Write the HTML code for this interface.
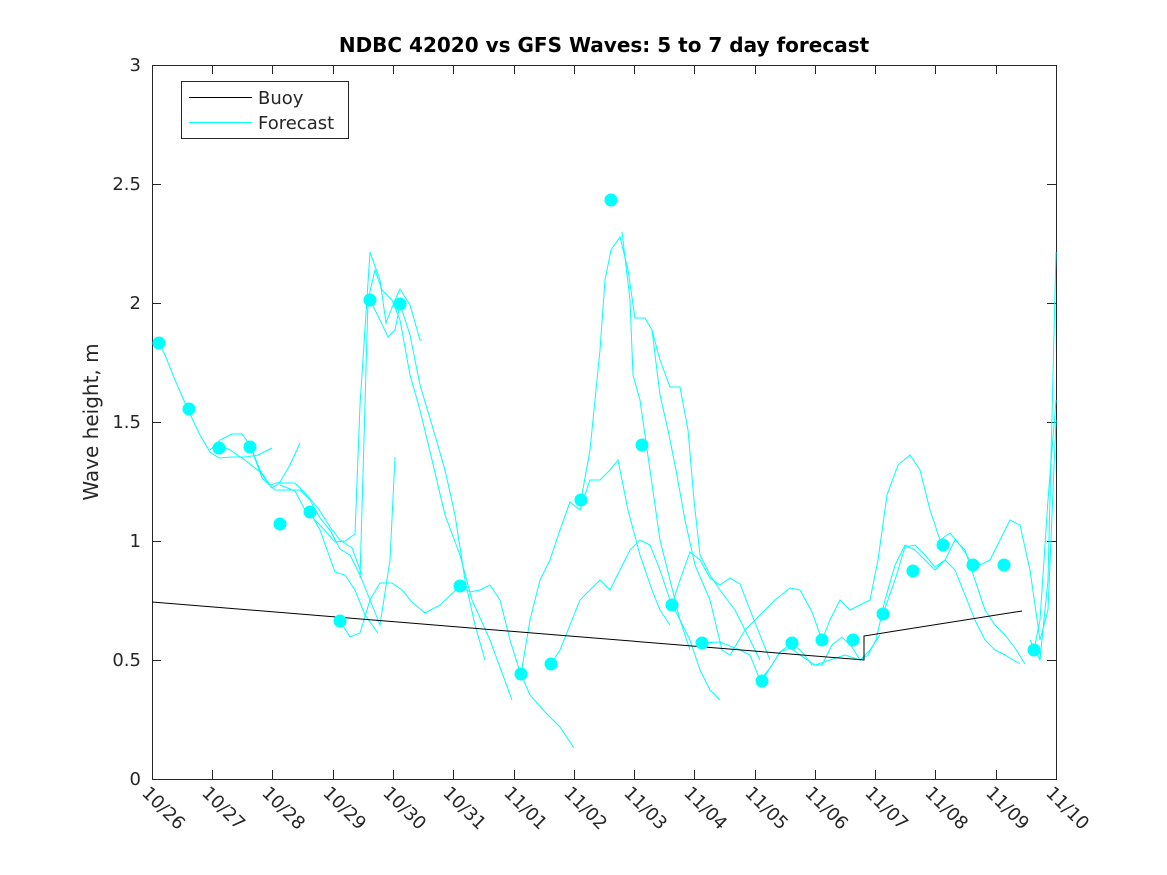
<!DOCTYPE html>
<html><head><style>body{margin:0;background:#fff}svg{display:block}text{font-family:"DejaVu Sans","Liberation Sans",sans-serif;fill:#262626}</style></head>
<body>
<svg width="1167" height="875" viewBox="0 0 1167 875" xmlns="http://www.w3.org/2000/svg">
<rect width="1167" height="875" fill="#fff"/>
<text x="604" y="52" text-anchor="middle" font-size="20" font-weight="bold" style="fill:#000">NDBC 42020 vs GFS Waves: 5 to 7 day forecast</text>
<rect x="152.5" y="65.5" width="904" height="714" fill="none" stroke="#262626" stroke-width="1"/>
<g stroke="#262626" stroke-width="1" id="ticks">
<path d="M152 660.5h9M152 541.5h9M152 422.5h9M152 303.5h9M152 184.5h9M1056 660.5h-9M1056 541.5h-9M1056 422.5h-9M1056 303.5h-9M1056 184.5h-9"/>
<path d="M212.5 779v-9M272.5 779v-9M333.5 779v-9M393.5 779v-9M453.5 779v-9M514.5 779v-9M574.5 779v-9M634.5 779v-9M694.5 779v-9M755.5 779v-9M815.5 779v-9M875.5 779v-9M935.5 779v-9M996.5 779v-9M212.5 65v9M272.5 65v9M333.5 65v9M393.5 65v9M453.5 65v9M514.5 65v9M574.5 65v9M634.5 65v9M694.5 65v9M755.5 65v9M815.5 65v9M875.5 65v9M935.5 65v9M996.5 65v9"/>
</g>
<g font-size="18" text-anchor="end">
<text x="141" y="785">0</text><text x="141" y="666">0.5</text><text x="141" y="547">1</text><text x="141" y="428">1.5</text><text x="141" y="309">2</text><text x="141" y="190">2.5</text><text x="141" y="71">3</text>
</g>
<text transform="translate(98,422) rotate(-90)" text-anchor="middle" font-size="20">Wave height, m</text>
<g font-size="18">
<text transform="translate(141,794) rotate(45)">10/26</text>
<text transform="translate(201,794) rotate(45)">10/27</text>
<text transform="translate(261,794) rotate(45)">10/28</text>
<text transform="translate(322,794) rotate(45)">10/29</text>
<text transform="translate(382,794) rotate(45)">10/30</text>
<text transform="translate(442,794) rotate(45)">10/31</text>
<text transform="translate(503,794) rotate(45)">11/01</text>
<text transform="translate(563,794) rotate(45)">11/02</text>
<text transform="translate(623,794) rotate(45)">11/03</text>
<text transform="translate(683,794) rotate(45)">11/04</text>
<text transform="translate(744,794) rotate(45)">11/05</text>
<text transform="translate(804,794) rotate(45)">11/06</text>
<text transform="translate(864,794) rotate(45)">11/07</text>
<text transform="translate(924,794) rotate(45)">11/08</text>
<text transform="translate(985,794) rotate(45)">11/09</text>
<text transform="translate(1045,794) rotate(45)">11/10</text>
</g>
<g fill="none" stroke="#00ffff" stroke-width="1">
<polyline points="159,343 165,355 175,380 189,412 200,435 210,452 219,458 232,457 245,457 258,455 272,448"/>
<polyline points="210,450 220,440 232,434 242,434 250,445 260,470 270,485 280,482 290,465 300,443"/>
<polyline points="219,445 230,450 245,460 260,472 272,488 280,483 295,483 305,493 318,508 330,527 340,540 352,548 362,575"/>
<polyline points="250,445 262,478 275,490 290,490 300,490 310,500 320,518 330,530 340,549 350,555 360,575 370,600 380,625 390,560 395,457"/>
<polyline points="280,485 295,491 305,510 320,525 335,542 345,541 355,534 360,405 370,252 380,280 386,323 395,300 400,289 410,305 420,340 422,340"/>
<polyline points="310,512 320,530 335,572 345,575 355,590 365,615 378,633"/>
<polyline points="340,621 350,637 360,633 370,600 380,583 392,583 402,590 412,602 425,613 440,605 460,586 470,592 480,590 490,585 500,600 510,640 520,672 530,695 545,712 560,727 574,748"/>
<polyline points="370,300 380,320 388,337 395,330 400,304 410,335 420,385 432,425 445,470 455,515 465,580 475,625 485,660"/>
<polyline points="360,578 368,300 375,270 382,290 392,300 400,320 410,375 420,410 432,460 445,515 460,555 472,600 490,640 512,700"/>
<polyline points="521,674 530,620 540,580 550,560 560,530 570,502 580,510 590,480 600,480 610,470 618,460 628,510 640,555 652,590 660,610 670,625"/>
<polyline points="551,664 560,650 570,625 580,600 590,590 600,580 610,590 620,570 630,550 640,540 650,545 660,570 670,600 680,620 690,650"/>
<polyline points="581,500 590,450 600,350 605,280 611,250 620,237 628,270 635,318 645,318 652,330 660,395 668,430 676,470 685,520 695,565 710,600 722,650 730,655"/>
<polyline points="622,232 630,300 633,375 640,400 650,470 660,540 670,580 680,620 690,640 700,670 710,690 720,700"/>
<polyline points="652,330 660,360 670,387 680,387 688,430 694,500 700,555 710,575 720,590 735,610 750,640 760,660"/>
<polyline points="672,605 680,580 690,552 700,560 710,578 720,585 730,578 740,584 750,610 760,635 770,660"/>
<polyline points="702,643 720,642 740,650 750,655 760,680 770,668 780,652 790,648 800,655 815,665 830,660 845,655 860,660 870,650 880,635"/>
<polyline points="762,681 770,668 780,652 792,643 802,652 812,665 822,665 832,645 842,637 852,647 860,660 868,655 876,640 885,600 895,565 905,545 915,550 925,560 935,570 945,560 955,570 965,595 975,620 985,640 995,650 1005,655 1020,664"/>
<polyline points="730,655 745,630 760,615 775,600 790,588 800,590 812,612 822,640 830,620 840,600 850,610 860,605 870,600 878,560 887,495 898,465 910,455 920,470 930,510 940,540 950,533 960,545 970,560 980,565 990,560 1000,540 1010,520 1020,525 1030,570 1040,640 1048,610 1056,420"/>
<polyline points="883,614 895,580 905,547 915,545 925,555 935,567 945,560 955,540 965,550 975,580 985,610 995,625 1005,635 1015,648 1025,664"/>
<polyline points="1034,650 1040,620 1048,500 1056,400"/>
<polyline points="1030,640 1040,660 1048,580 1056,252"/>
</g>
<polyline points="152,602 864,660 864,636 1022,611" fill="none" stroke="#000" stroke-width="1"/>
<g fill="#00ffff">
<circle cx="159" cy="343" r="6.5"/><circle cx="189" cy="409" r="6.5"/><circle cx="219" cy="448" r="6.5"/><circle cx="250" cy="447" r="6.5"/><circle cx="280" cy="524" r="6.5"/><circle cx="310" cy="512" r="6.5"/><circle cx="340" cy="621" r="6.5"/><circle cx="370" cy="300" r="6.5"/><circle cx="400" cy="304" r="6.5"/><circle cx="460" cy="586" r="6.5"/><circle cx="521" cy="674" r="6.5"/><circle cx="551" cy="664" r="6.5"/><circle cx="581" cy="500" r="6.5"/><circle cx="611" cy="200" r="6.5"/><circle cx="642" cy="445" r="6.5"/><circle cx="672" cy="605" r="6.5"/><circle cx="702" cy="643" r="6.5"/><circle cx="762" cy="681" r="6.5"/><circle cx="792" cy="643" r="6.5"/><circle cx="822" cy="640" r="6.5"/><circle cx="853" cy="640" r="6.5"/><circle cx="883" cy="614" r="6.5"/><circle cx="913" cy="571" r="6.5"/><circle cx="943" cy="545" r="6.5"/><circle cx="973" cy="565" r="6.5"/><circle cx="1004" cy="565" r="6.5"/><circle cx="1034" cy="650" r="6.5"/>
</g>
<rect x="181.5" y="81.5" width="167" height="57" fill="#fff" stroke="#262626"/>
<line x1="189" y1="97.5" x2="252" y2="97.5" stroke="#000"/>
<line x1="189" y1="122.5" x2="252" y2="122.5" stroke="#00ffff"/>
<text x="258" y="104" font-size="18">Buoy</text>
<text x="258" y="129" font-size="18">Forecast</text>
</svg>
</body></html>
